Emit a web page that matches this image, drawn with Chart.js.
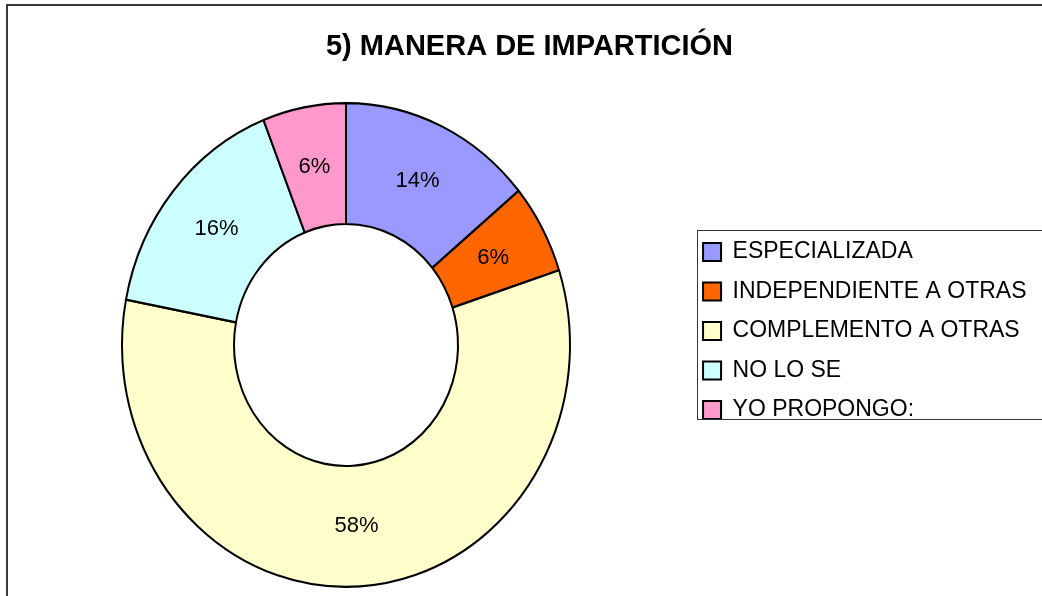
<!DOCTYPE html>
<html>
<head>
<meta charset="utf-8">
<script src="https://cdn.jsdelivr.net/npm/chart.js@4.4.1/dist/chart.umd.min.js"></script>
<style>
  html, body { margin: 0; padding: 0; background: #fff; }
  #wrap { width: 1042px; height: 596px; }
</style>
</head>
<body>
<div id="wrap"><canvas id="chart"></canvas></div>
<script>
// 5) MANERA DE IMPARTICIÓN — doughnut
const chartTitle = '5) MANERA DE IMPARTICIÓN';
const categories = ['ESPECIALIZADA', 'INDEPENDIENTE A OTRAS', 'COMPLEMENTO A OTRAS', 'NO LO SE', 'YO PROPONGO:'];
const percents = [14, 6, 58, 16, 6];
const sliceColors = ['#9999FF', '#FF6600', '#FFFFCC', '#CCFFFF', '#FF99CC'];

const FONT = '"Liberation Sans", Arial, sans-serif';

// outer frame of the chart (right/bottom edges fall outside the picture)
const framePlugin = {
  id: 'frame',
  beforeDraw(chart, args, opts) {
    const ctx = chart.ctx;
    ctx.save();
    ctx.fillStyle = '#fff';
    ctx.fillRect(0, 0, chart.width, chart.height);
    ctx.strokeStyle = opts.color;
    ctx.lineWidth = opts.width;
    ctx.strokeRect(opts.x, opts.y, chart.width + 40, chart.height + 40);
    ctx.restore();
  }
};

// the original ring is slightly taller than wide: stretch it, then put % labels on it
const ellipsePlugin = {
  id: 'ellipse',
  beforeDatasetsDraw(chart, args, opts) {
    const arc = chart.getDatasetMeta(0).data[0];
    const ctx = chart.ctx;
    ctx.save();
    ctx.translate(opts.x, opts.y);
    ctx.scale(1, opts.stretch);
    ctx.translate(-arc.x, -arc.y);
  },
  afterDatasetsDraw(chart, args, opts) {
    const ctx = chart.ctx;
    ctx.restore();
    const arcs = chart.getDatasetMeta(0).data;
    const vals = chart.data.datasets[0].data;
    const total = vals.reduce((s, v) => s + v, 0);
    ctx.save();
    ctx.font = opts.font;
    ctx.fillStyle = '#000';
    ctx.textAlign = 'center';
    ctx.textBaseline = 'middle';
    arcs.forEach((a, i) => {
      const p = a.tooltipPosition();
      const x = opts.x + (p.x - a.x);
      const y = opts.y + (p.y - a.y) * opts.stretch;
      ctx.fillText(Math.round(vals[i] / total * 100) + '%', x, y);
    });
    ctx.restore();
  }
};

// border around the legend (right side runs off the picture)
const legendBoxPlugin = {
  id: 'legendBox',
  afterDraw(chart, args, opts) {
    const hb = chart.legend.legendHitBoxes;
    if (!hb || !hb.length) return;
    const first = hb[0], last = hb[hb.length - 1];
    const top = first.top - opts.padTop;
    const bottom = last.top + last.height + opts.padBottom;
    const ctx = chart.ctx;
    ctx.save();
    ctx.strokeStyle = opts.color;
    ctx.lineWidth = 1;
    ctx.strokeRect(Math.round(first.left - opts.padLeft) + 0.5, Math.round(top) + 0.5, chart.width, Math.round(bottom - top));
    ctx.restore();
  }
};

new Chart(document.getElementById('chart'), {
  type: 'doughnut',
  data: {
    labels: categories,
    datasets: [{
      data: percents,
      backgroundColor: sliceColors,
      borderColor: '#000',
      borderWidth: 2,
      radius: 224,
      cutout: '50%'
    }]
  },
  options: {
    responsive: true,
    maintainAspectRatio: false,
    animation: false,
    events: [],
    layout: { padding: { left: 22.5, right: 5.5, top: 0, bottom: 0 } },
    plugins: {
      title: {
        display: true,
        text: chartTitle,
        color: '#000',
        font: { family: FONT, size: 29, weight: 'bold' },
        padding: { top: 29.6, bottom: 1.6 }
      },
      legend: {
        position: 'right',
        fullSize: false,
        labels: {
          color: '#000',
          font: { family: FONT, size: 23 },
          boxWidth: 18,
          boxHeight: 18,
          padding: 16.5
        }
      },
      tooltip: { enabled: false },
      frame: { x: 7, y: 5, width: 2, color: '#3a3a3a' },
      ellipse: { x: 346, y: 345, stretch: 1.08, font: '22px ' + FONT },
      legendBox: { padLeft: 6, padTop: 10.5, padBottom: -3, color: '#333' }
    }
  },
  plugins: [framePlugin, ellipsePlugin, legendBoxPlugin]
});
</script>
</body>
</html>
